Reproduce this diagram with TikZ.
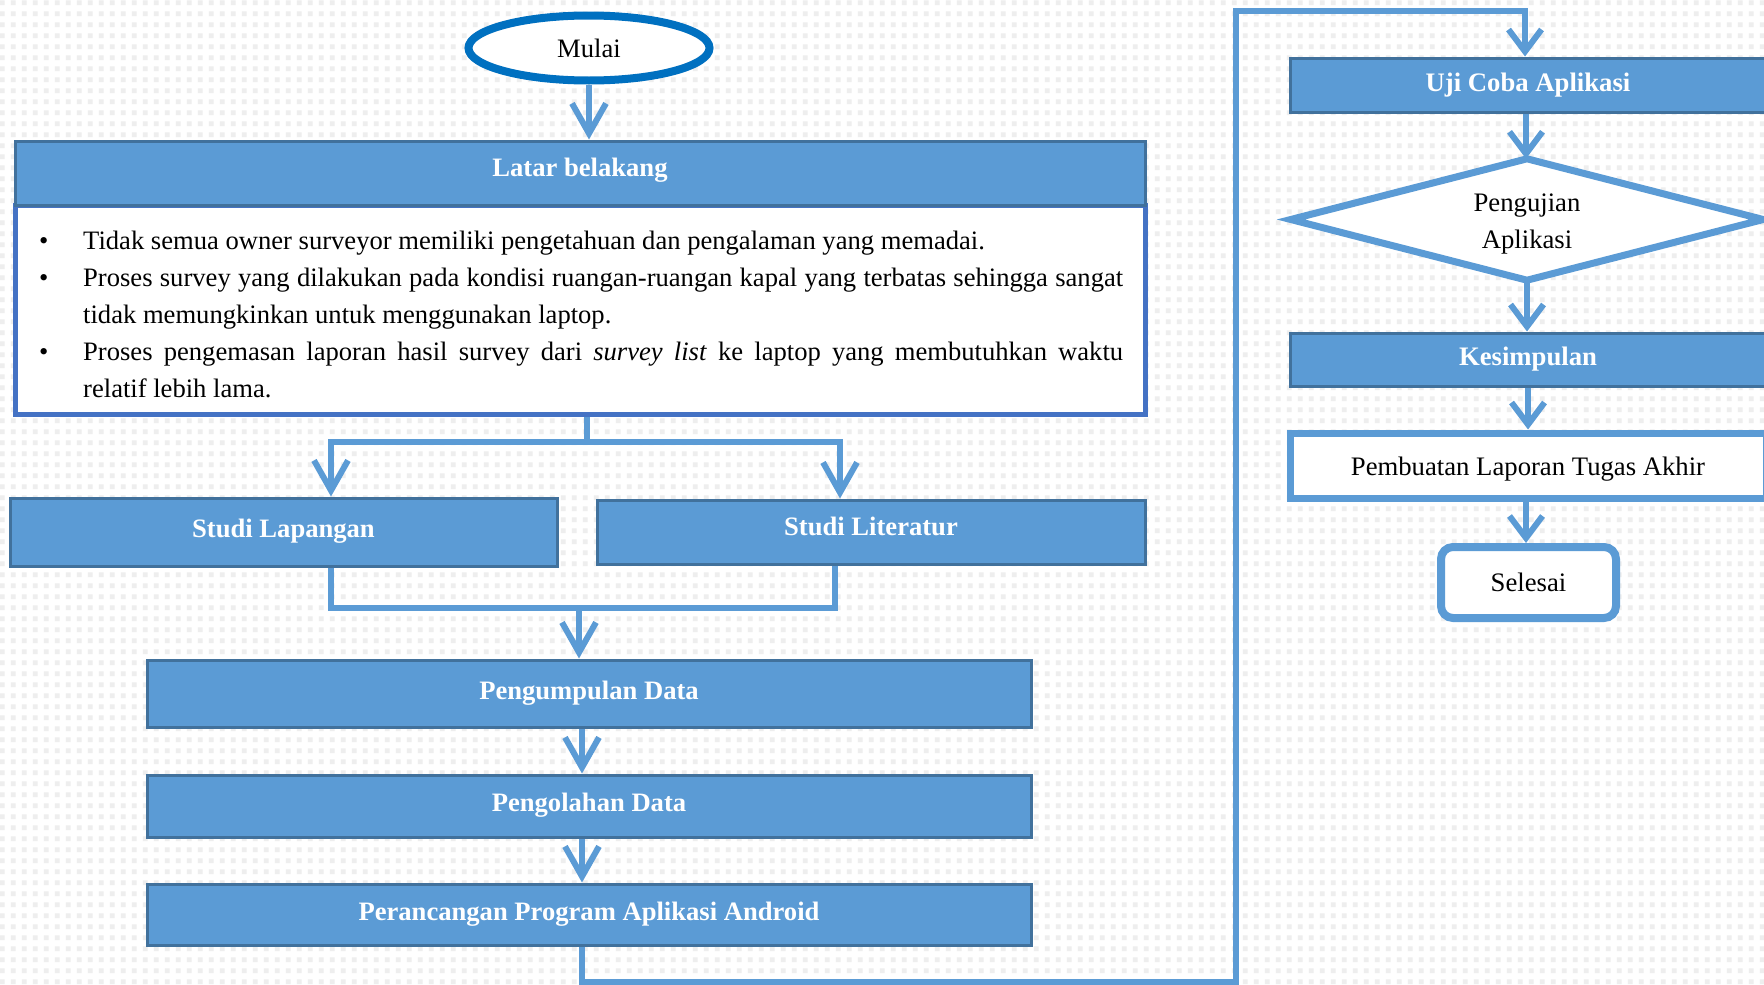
\documentclass[tikz,border=0pt]{standalone}
\usepackage{fontspec}
\setmainfont{Liberation Serif}
\usetikzlibrary{shapes.geometric,arrows.meta,patterns.meta,calc,backgrounds}
\definecolor{boxblue}{HTML}{5B9BD5}
\definecolor{boxedge}{HTML}{41719C}
\definecolor{frameblue}{HTML}{4472C4}
\definecolor{ellblue}{HTML}{0070C0}
\definecolor{dotgray}{HTML}{EEEEEE}
\tikzdeclarepattern{name=bgdots, type=colored,
  bounding box={(0pt,0pt) and (11pt,11pt)}, tile size={(11pt,11pt)},
  code={\fill[dotgray] (1pt,1pt) rectangle (6pt,6pt);}}
\newcommand\bulitem{\par\noindent\hangindent=44pt\hangafter=1\makebox[44pt][l]{\textbullet}}
\begin{document}
\begin{tikzpicture}[x=1pt,y=-1pt,
  leftbox/.style={draw=boxedge, line width=3pt, fill=boxblue, text=white,
    font=\bfseries\fontsize{26.6}{30}\selectfont, inner sep=0pt, text height=18pt, text depth=7pt},
  rightbox/.style={draw=boxedge, line width=3pt, fill=boxblue, text=white,
    font=\bfseries\fontsize{26.7}{30}\selectfont, inner sep=0pt, minimum width=476pt},
  conn/.style={draw=boxblue, line width=6pt},
  arrL/.style={conn, -{Straight Barb[length=30pt,width=34pt]}},
  arrR/.style={conn, -{Straight Barb[length=22pt,width=33pt]}}]
\useasboundingbox (0,0) rectangle (1764,985);
\begin{scope}[on background layer]
\fill[white] (0,0) rectangle (1764,985);
\fill[pattern=bgdots] (0,0) rectangle (1764,985);
\end{scope}

% start
\node[ellipse, draw=ellblue, line width=8pt, fill=white, minimum width=241pt, minimum height=65pt,
  inner sep=0pt, text height=22pt, text depth=3pt, font=\fontsize{26.6}{30}\selectfont] (mulai) at (589,48) {Mulai};

% Latar belakang
\node[draw=frameblue, line width=5pt, fill=white, minimum width=1130pt, minimum height=209pt, inner sep=0pt]
  (latarbody) at (580,309.5) {};
\node[leftbox, minimum width=1130pt, minimum height=64pt, text height=14pt, text depth=8pt] (latar) at (580,173) {Latar belakang};
\node[anchor=base west, inner sep=0pt, font=\fontsize{26.6}{37}\selectfont] (bullets) at (39,249.5)
 {\begin{minipage}[t]{1084pt}\tolerance=9999\hyphenpenalty=10000\parindent=0pt
  \bulitem Tidak semua owner surveyor memiliki pengetahuan dan pengalaman yang memadai.
  \bulitem Proses survey yang dilakukan pada kondisi ruangan-ruangan kapal yang terbatas sehingga sangat\linebreak
  tidak memungkinkan untuk menggunakan laptop.
  \bulitem Proses pengemasan laporan hasil survey dari \textit{survey list} ke laptop yang membutuhkan waktu\linebreak
  relatif lebih lama.\par
 \end{minipage}};

% studi
\node[leftbox, minimum width=547pt, minimum height=68pt] (studiL) at (283.5,532) {Studi Lapangan};
\node[leftbox, minimum width=548pt, minimum height=64pt, text height=16pt, text depth=9pt] (studiR) at (871,532) {Studi Literatur};

% process column
\node[leftbox, minimum width=884pt, minimum height=67pt] (peng) at (589,693.5) {Pengumpulan Data};
\node[leftbox, minimum width=884pt, minimum height=62pt] (olah) at (589,806) {Pengolahan Data};
\node[leftbox, minimum width=884pt, minimum height=61pt] (ranc) at (589,914.5) {Perancangan Program Aplikasi Android};

% right column
\node[rightbox, minimum height=54pt] (uji) at (1528,85) {Uji Coba Aplikasi};
\node[minimum width=472pt, minimum height=121pt, inner sep=0pt] (diam) at (1527,219.5) {};
\begin{scope}[on background layer]
\draw[boxblue, line width=7pt, fill=white, line join=miter]
  (diam.north) -- (diam.east) -- (diam.south) -- (diam.west) -- cycle;
\end{scope}
\node[inner sep=0pt, align=center, font=\fontsize{26.7}{37}\selectfont] (diamtext)
  at ([yshift=-4.5pt]diam.center) {Pengujian\\Aplikasi};
\node[rightbox, minimum height=53pt] (kes) at (1528,359.5) {Kesimpulan};
\node[draw=boxblue, line width=7pt, fill=white, minimum width=476pt, minimum height=65pt, inner sep=0pt,
  text height=24pt, text depth=5pt, font=\fontsize{26.7}{30}\selectfont] (pemb) at (1528,465.5) {Pembuatan Laporan Tugas Akhir};
\node[draw=boxblue, line width=8pt, fill=white, rounded corners=12pt, minimum width=175pt, minimum height=71pt,
  inner sep=0pt, font=\fontsize{26.7}{30}\selectfont] (sel) at (1528.5,582.5) {Selesai};

% connectors
\draw[arrL] (mulai.south) -- (mulai.south |- latar.north);
\coordinate (j1) at (587,442);
\draw[conn] (latarbody.south -| j1) -- (j1);
\draw[arrL] (j1) -| ([xshift=47.5pt]studiL.north);
\draw[arrL] (j1) -| ([xshift=-31pt]studiR.north);
\coordinate (m1) at (579,608);
\draw[conn] ([xshift=47.5pt]studiL.south) |- (m1) -| ([xshift=-36pt]studiR.south);
\draw[arrL] (m1) -- ([xshift=-10pt]peng.north);
\draw[arrL] ([xshift=-7pt]peng.south) -- ([xshift=-7pt]olah.north);
\draw[arrL] ([xshift=-7pt]olah.south) -- ([xshift=-7pt]ranc.north);
\coordinate (lb) at (1236,982);
\coordinate (lt) at (1236,11);
\draw[arrR] ([xshift=-7pt]ranc.south) |- (lb) -- (lt) -| ([xshift=-3pt]uji.north);
\draw[arrR] ([xshift=-2pt]uji.south) -- ([xshift=-2pt]uji.south |- diam.north);
\draw[arrR] (diam.south) -- (diam.south |- kes.north);
\draw[arrR] (kes.south) -- (pemb.north);
\draw[arrR] ([xshift=-2pt]pemb.south) -- ([xshift=-2pt]pemb.south |- sel.north);
\end{tikzpicture}
\end{document}
